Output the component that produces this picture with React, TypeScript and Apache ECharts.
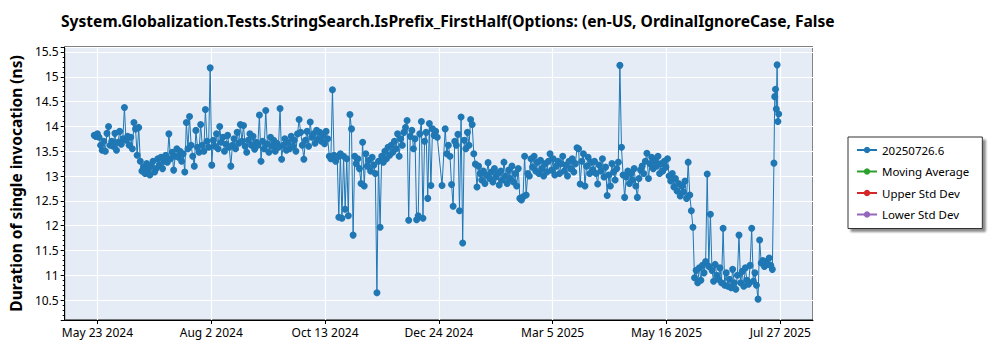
import React, { useEffect, useRef } from "react";
import * as echarts from "echarts";

const TITLE =
  "System.Globalization.Tests.StringSearch.IsPrefix_FirstHalf(Options: (en-US, OrdinalIgnoreCase, False";
const Y_NAME = "Duration of single invocation (ns)";
const SERIES_NAMES = ["20250726.6", "Moving Average", "Upper Std Dev", "Lower Std Dev"];
const SERIES_COLORS = ["#1f77b4", "#2ca02c", "#d62728", "#9467bd"];
const MONTH_LABELS = ["Jan", "Feb", "Mar", "Apr", "May", "Jun", "Jul", "Aug", "Sep", "Oct", "Nov", "Dec"];

// x axis: ticks every TICK_SPACING_DAYS starting at FIRST_TICK (May 23 2024 ... Jul 27 2025)
const FIRST_TICK = "2024-05-23";
const TICK_SPACING_DAYS = 430 / 6;
const X_RANGE = [-0.2875, 6.2875]; // in tick units
const Y_RANGE = [10.1, 15.6];

// [day of month, duration ns]
const runs2024_05 = [[21,13.82],[22,13.80],[23,13.85],[24,13.78],[25,13.62],[26,13.52],[27,13.70],[28,13.50],[29,13.86],[30,14.00],[31,13.62]];
const runs2024_06 = [[1,13.70],[2,13.60],[3,13.86],[4,13.52],[5,13.68],[6,13.90],[7,13.64],[8,13.75],[9,14.38],[10,13.72],[11,13.80],[12,13.62],[13,13.78],[14,13.55],[15,14.08],[16,13.95],[17,13.42],[18,13.98],[19,13.30],[20,13.10],[21,13.18],[22,13.05],[23,13.25],[24,13.12],[25,13.02],[26,13.20],[27,13.30],[28,13.08],[29,13.15],[30,13.35]];
const runs2024_07 = [[1,13.22],[2,13.38],[3,13.15],[4,13.30],[5,13.42],[6,13.28],[7,13.85],[8,13.35],[9,13.48],[10,13.12],[11,13.40],[12,13.55],[13,13.38],[14,13.50],[15,13.30],[16,13.45],[17,13.08],[18,14.08],[19,13.55],[20,14.20],[21,13.62],[22,13.40],[23,13.20],[24,13.92],[25,13.58],[26,13.48],[27,14.04],[28,13.62],[29,13.50],[30,14.34],[31,13.70]];
const runs2024_08 = [[1,13.58],[2,15.18],[3,13.22],[4,13.72],[5,13.60],[6,13.85],[7,13.55],[8,14.00],[9,13.68],[10,13.78],[11,13.50],[12,13.64],[13,13.82],[14,13.58],[15,13.20],[16,13.62],[17,13.75],[18,13.55],[19,13.88],[20,13.66],[21,14.04],[22,13.70],[23,14.02],[24,13.60],[25,13.48],[26,13.72],[27,13.85],[28,13.62],[29,13.80],[30,13.54],[31,13.68]];
const runs2024_09 = [[1,13.62],[2,14.23],[3,13.30],[4,13.70],[5,13.55],[6,14.32],[7,13.65],[8,13.48],[9,13.78],[10,13.60],[11,13.72],[12,13.50],[13,13.66],[14,13.58],[15,14.36],[16,13.34],[17,13.62],[18,13.75],[19,13.52],[20,13.68],[21,13.55],[22,13.80],[23,13.60],[24,13.72],[25,13.50],[26,13.85],[27,14.14],[28,13.88],[29,13.62],[30,13.34]];
const runs2024_10 = [[1,13.72],[2,13.90],[3,13.60],[4,14.09],[5,13.78],[6,13.85],[7,13.66],[8,13.92],[9,13.74],[10,13.88],[11,13.70],[12,13.82],[13,13.65],[14,13.90],[15,13.75],[16,13.40],[17,13.35],[18,14.74],[19,13.42],[20,13.30],[21,13.38],[22,12.17],[23,13.45],[24,12.15],[25,13.40],[26,12.33],[27,13.35],[28,12.20],[29,14.24],[30,13.95],[31,11.81]];
const runs2024_11 = [[1,13.40],[2,13.25],[3,13.35],[4,13.15],[5,12.85],[6,13.68],[7,12.80],[8,13.45],[9,13.20],[10,13.32],[11,13.10],[12,13.38],[13,13.22],[14,13.05],[15,10.65],[16,13.30],[17,11.97],[18,13.40],[19,13.28],[20,13.50],[21,13.35],[22,13.58],[23,13.42],[24,13.62],[25,13.48],[26,13.70],[27,13.55],[28,13.85],[29,13.40],[30,13.75]];
const runs2024_12 = [[1,13.62],[2,13.88],[3,13.98],[4,14.12],[5,12.11],[6,13.80],[7,13.92],[8,13.55],[9,13.75],[10,12.12],[11,12.20],[12,13.85],[13,14.10],[14,12.15],[15,13.70],[16,13.88],[17,12.55],[18,14.06],[19,12.81],[20,13.95],[21,13.82],[22,13.90],[23,13.78],[26,12.81],[28,13.95],[29,13.45],[30,13.62],[31,13.40]];
const runs2025_01 = [[1,12.83],[2,12.39],[3,13.70],[4,13.62],[5,13.84],[6,12.30],[7,14.19],[8,11.65],[9,13.72],[10,13.55],[11,13.88],[12,13.62],[13,14.14],[14,14.04],[15,13.45],[16,13.24],[17,12.78],[18,13.20],[19,13.05],[20,12.92],[21,13.10],[22,12.85],[23,13.02],[24,13.27],[25,12.95],[26,13.08],[27,12.88],[28,13.15],[29,12.98],[30,13.05],[31,12.82]];
const runs2025_02 = [[1,13.10],[2,12.92],[3,13.28],[4,13.00],[5,12.85],[6,13.12],[7,12.95],[8,13.20],[9,12.88],[10,13.05],[11,12.80],[12,13.15],[13,12.55],[14,12.52],[15,12.58],[16,13.40],[17,12.62],[18,13.05],[19,13.00],[20,13.35],[21,13.18],[22,13.40],[23,13.10],[24,13.28],[25,13.05],[26,13.32],[27,13.15],[28,13.00]];
const runs2025_03 = [[1,13.25],[2,13.08],[3,13.30],[4,13.45],[5,13.12],[6,13.35],[7,13.02],[8,13.20],[9,13.30],[10,13.05],[11,13.25],[12,13.40],[13,13.10],[14,13.22],[15,13.00],[16,13.30],[17,13.15],[18,13.35],[19,13.08],[20,13.25],[21,13.57],[22,13.55],[23,12.84],[24,13.30],[25,13.45],[26,12.80],[27,13.20],[28,13.38],[29,13.05],[30,13.28],[31,13.12]];
const runs2025_04 = [[1,13.30],[2,13.05],[3,12.84],[4,13.22],[5,13.10],[6,13.35],[7,12.98],[8,13.18],[9,12.61],[10,13.02],[11,12.80],[12,13.25],[13,13.08],[14,12.92],[15,13.15],[16,13.28],[17,15.23],[18,13.58],[19,13.02],[20,12.57],[21,12.98],[22,13.10],[23,12.85],[24,13.05],[25,12.92],[26,13.15],[27,12.80],[28,12.57],[29,12.95],[30,13.12]];
const runs2025_05 = [[1,13.20],[2,13.05],[3,13.30],[4,13.46],[5,12.95],[6,13.25],[7,13.38],[8,13.15],[9,13.30],[10,13.20],[11,13.40],[12,13.05],[13,13.25],[14,13.10],[15,13.30],[16,13.18],[17,13.35],[18,13.00],[19,12.90],[20,13.05],[21,12.78],[22,12.95],[23,12.70],[24,12.85],[25,12.60],[26,12.80],[27,12.68],[28,12.90],[29,12.55],[30,13.28],[31,12.62]];
const runs2025_06 = [[1,12.30],[2,11.97],[3,10.95],[4,11.10],[5,10.85],[6,11.15],[7,10.90],[8,11.20],[9,11.05],[10,11.28],[11,13.04],[12,11.18],[13,12.23],[14,11.10],[15,10.88],[16,11.22],[17,11.00],[18,10.92],[19,11.15],[20,10.85],[21,11.95],[22,10.80],[23,11.05],[24,10.78],[25,10.92],[26,10.75],[27,11.12],[28,10.85],[29,10.72],[30,11.00]];
const runs2025_07 = [[1,11.81],[2,10.85],[3,11.08],[4,10.78],[5,11.15],[6,10.90],[7,10.82],[8,11.20],[9,11.95],[10,10.88],[11,11.05],[12,10.80],[13,10.52],[14,11.71],[15,11.25],[16,11.30],[17,11.18],[18,11.28],[19,11.22],[20,11.35],[21,11.20],[22,11.12],[23,13.26],[23.5,14.60],[24,14.75],[24.5,14.35],[25,15.24],[25.5,14.10],[26,14.25]];

const MONTHS: [string, number[][]][] = [
  ["2024-05", runs2024_05], ["2024-06", runs2024_06], ["2024-07", runs2024_07],
  ["2024-08", runs2024_08], ["2024-09", runs2024_09], ["2024-10", runs2024_10],
  ["2024-11", runs2024_11], ["2024-12", runs2024_12], ["2025-01", runs2025_01],
  ["2025-02", runs2025_02], ["2025-03", runs2025_03], ["2025-04", runs2025_04],
  ["2025-05", runs2025_05], ["2025-06", runs2025_06], ["2025-07", runs2025_07],
];

const DAY_MS = 86400000;
const T0 = Date.parse(FIRST_TICK);

function toTickUnits(ms: number) {
  return (ms - T0) / DAY_MS / TICK_SPACING_DAYS;
}

function formatTick(v: number) {
  const ms = T0 + v * TICK_SPACING_DAYS * DAY_MS;
  const rounded = Math.round(ms / 3600000) * 3600000;
  const d = new Date(rounded);
  return `${MONTH_LABELS[d.getUTCMonth()]} ${d.getUTCDate()} ${d.getUTCFullYear()}`;
}

const FONT = "'Segoe UI', 'Noto Sans', sans-serif";

export default function App() {
  const ref = useRef<HTMLDivElement>(null);
  useEffect(() => {
    if (!ref.current) return;
    const chart = echarts.init(ref.current, null, { renderer: "svg" });
    const points = MONTHS.flatMap(([ym, rows]) => {
      const base = Date.parse(ym + "-01");
      return rows.map(([d, v]) => [toTickUnits(base + (d - 1) * DAY_MS), v]);
    });
    chart.setOption({
      animation: false,
      textStyle: { fontFamily: FONT },
      title: {
        text: TITLE,
        left: 56,
        top: 8,
        textStyle: { fontFamily: FONT, fontSize: 15.6, fontWeight: "bold", color: "#000" },
      },
      legend: {
        orient: "vertical",
        left: 848,
        top: 137,
        data: SERIES_NAMES,
        backgroundColor: "#fff",
        borderColor: "#333",
        borderWidth: 1,
        borderRadius: 0,
        shadowColor: "rgba(0,0,0,0.45)",
        shadowOffsetX: 3,
        shadowOffsetY: 3,
        shadowBlur: 2,
        padding: [7, 13, 8, 8],
        itemWidth: 20,
        itemHeight: 8,
        itemGap: 9.5,
        textStyle: { fontFamily: FONT, fontSize: 11.5, color: "#000" },
      },
      grid: {
        left: 59,
        right: 187,
        top: 47,
        bottom: 30,
        show: true,
        backgroundColor: "#e5ecf6",
        borderColor: "#000",
        borderWidth: 1,
      },
      xAxis: {
        type: "value",
        min: X_RANGE[0],
        max: X_RANGE[1],
        splitNumber: 7,
        axisLine: { show: true, onZero: false, lineStyle: { color: "#000" } },
        axisTick: { show: true, length: 4, lineStyle: { color: "#000" } },
        axisLabel: {
          showMinLabel: false,
          showMaxLabel: false,
          color: "#000",
          fontSize: 12,
          fontFamily: FONT,
          margin: 6,
          formatter: formatTick,
        },
        splitLine: { show: true, lineStyle: { color: "#fff", width: 1.2 } },
      },
      yAxis: {
        type: "value",
        min: Y_RANGE[0],
        max: Y_RANGE[1],
        splitNumber: 11,
        name: Y_NAME,
        nameLocation: "middle",
        nameGap: 36,
        nameTextStyle: { fontFamily: FONT, fontSize: 15.5, fontWeight: "bold", color: "#000" },
        axisLine: { show: true, onZero: false, lineStyle: { color: "#000" } },
        axisTick: { show: true, length: 4, lineStyle: { color: "#000" } },
        minorTick: { show: true, splitNumber: 5, length: 2, lineStyle: { color: "#000" } },
        axisLabel: {
          showMinLabel: false,
          showMaxLabel: false,
          color: "#000",
          fontSize: 12,
          fontFamily: FONT,
          margin: 6,
        },
        splitLine: { show: true, lineStyle: { color: "#fff", width: 1.2 } },
      },
      series: [
        {
          name: SERIES_NAMES[0],
          type: "line",
          data: points,
          color: SERIES_COLORS[0],
          symbol: "circle",
          symbolSize: 7,
          showSymbol: true,
          showAllSymbol: true,
          lineStyle: { width: 1, color: SERIES_COLORS[0] },
          itemStyle: { color: SERIES_COLORS[0] },
        },
        ...SERIES_NAMES.slice(1).map((name, i) => ({
          name,
          type: "line",
          data: [],
          color: SERIES_COLORS[i + 1],
          symbol: "circle",
          symbolSize: 6,
          lineStyle: { width: 1, color: SERIES_COLORS[i + 1] },
          itemStyle: { color: SERIES_COLORS[i + 1] },
        })),
      ],
    });
    return () => chart.dispose();
  }, []);
  return (
    <div
      ref={ref}
      style={{ position: "absolute", left: 0, top: 0, width: 1000, height: 350, background: "#fff" }}
    />
  );
}
